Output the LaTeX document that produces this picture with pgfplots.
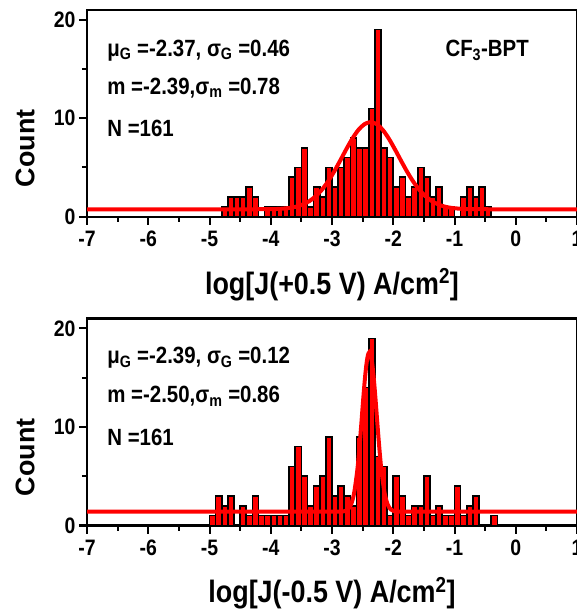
\documentclass[border=0pt]{standalone}
\usepackage{fontspec}
\setmainfont{Liberation Sans}
\usepackage{pgfplots}
\pgfplotsset{compat=1.18}
\definecolor{myred}{RGB}{255,0,0}
\newcommand{\vs}[1]{\scalebox{1}[1.15]{#1}}
\tikzset{ann/.style={anchor=west, font=\fontsize{20.5}{20.5}\selectfont\bfseries, inner sep=0pt}}
\pgfplotsset{
  myaxis/.style={
    scale only axis, width=490bp, height=206.9bp,
    xmin=-7, xmax=1, ymin=0, ymax=21,
    xtick={-7,-6,-5,-4,-3,-2,-1,0,1}, ytick={0,10,20},
    minor xtick={-6.5,-5.5,-4.5,-3.5,-2.5,-1.5,-0.5,0.5}, minor ytick={5,15},
    tick align=outside, tick pos=left,
    major tick length=8bp, minor tick length=5bp,
    axis line style={line width=2.2bp},
    every tick/.style={line width=2bp, black},
    /pgf/number format/assume math mode=true,
    ticklabel style={font=\fontsize{19.5}{19.5}\selectfont\bfseries},
    xticklabel={\vs{\pgfmathprintnumber{\tick}}},
    yticklabel={\vs{\pgfmathprintnumber{\tick}}},
    xticklabel style={yshift=-3bp},
    xlabel style={at={(axis description cs:0.5,0)}, anchor=center, yshift=-68bp, font=\fontsize{27}{27}\selectfont\bfseries},
    ylabel style={at={(axis description cs:0,0.33)}, anchor=center, yshift=62bp, font=\fontsize{27}{27}\selectfont\bfseries},
    ylabel={Count},
    bar width=0.1,
  },
  histo/.style={ybar, bar shift=0pt, draw=black, fill=myred, line width=1.6bp},
  fitline/.style={myred, line width=4bp, smooth, mark=none},
}
\begin{document}
\begin{tikzpicture}
\begin{axis}[myaxis, at={(87bp,395.3bp)}, anchor=south west,
  xlabel={\vs{log[J(+0.5 V) A/cm\textsuperscript{2}]}}]
\addplot[histo] coordinates {
(-4.75,1) (-4.65,2) (-4.55,2) (-4.45,2) (-4.35,3) (-4.25,2)
(-4.05,1) (-3.95,1) (-3.85,1) (-3.75,1) (-3.65,4) (-3.55,5) (-3.45,7)
(-3.35,1) (-3.25,3) (-3.15,2) (-3.05,5) (-2.95,3) (-2.85,5) (-2.75,6)
(-2.65,8) (-2.55,7) (-2.45,7) (-2.35,11) (-2.25,19) (-2.15,7) (-2.05,6)
(-1.95,3) (-1.85,4) (-1.75,2) (-1.65,3) (-1.55,5) (-1.45,4) (-1.35,2)
(-1.25,3) (-1.15,1) (-1.05,1) (-0.85,2) (-0.75,3) (-0.65,2) (-0.55,3) (-0.45,1)
};
\addplot[fitline] coordinates {
(-7,0.75) (-5.5,0.75) (-4.5,0.75) (-4.17,0.76) (-3.97,0.77) (-3.87,0.79) (-3.77,0.84)
(-3.67,0.91) (-3.57,1.04) (-3.47,1.26) (-3.37,1.58) (-3.27,2.06) (-3.17,2.70)
(-3.07,3.53) (-2.97,4.53) (-2.87,5.65) (-2.77,6.81) (-2.67,7.90) (-2.57,8.80)
(-2.47,9.39) (-2.37,9.60) (-2.27,9.39) (-2.17,8.80) (-2.07,7.90) (-1.97,6.81)
(-1.87,5.65) (-1.77,4.53) (-1.67,3.53) (-1.57,2.70) (-1.47,2.06) (-1.37,1.58)
(-1.27,1.26) (-1.17,1.04) (-1.07,0.91) (-0.97,0.84) (-0.87,0.79) (-0.77,0.77)
(-0.57,0.76) (-0.2,0.75) (0.5,0.75) (1,0.75)
};
\node[ann] at (axis cs:-6.67,16.9) {\vs{μ\textsubscript{G} =-2.37, σ\textsubscript{G} =0.46}};
\node[ann] at (axis cs:-6.67,13.1) {\vs{m =-2.39,σ\textsubscript{m} =0.78}};
\node[ann] at (axis cs:-6.67,9.0) {\vs{N =161}};
\node[ann] at (axis cs:-1.15,16.9) {\vs{CF\textsubscript{3}-BPT}};
\end{axis}
\begin{axis}[myaxis, at={(87bp,86.5bp)}, anchor=south west,
  xlabel={\vs{log[J(-0.5 V) A/cm\textsuperscript{2}]}}]
\addplot[histo] coordinates {
(-4.95,1) (-4.85,3) (-4.75,2) (-4.65,3) (-4.45,2) (-4.35,1) (-4.25,3)
(-4.15,1) (-4.05,1) (-3.95,1) (-3.85,1) (-3.75,1) (-3.65,6) (-3.55,8)
(-3.45,5) (-3.35,2) (-3.25,4) (-3.15,5) (-3.05,9) (-2.95,3) (-2.85,4)
(-2.75,3) (-2.65,2) (-2.55,9) (-2.45,14) (-2.35,19) (-2.25,7) (-2.15,6)
(-2.05,1) (-1.95,5) (-1.85,3) (-1.75,1) (-1.65,2) (-1.55,2) (-1.45,5)
(-1.35,1) (-1.25,2) (-1.15,1) (-1.05,1) (-0.95,4) (-0.85,1) (-0.75,2)
(-0.65,3) (-0.35,1)
};
\addplot[fitline] coordinates {
(-7,1.40) (-5,1.40) (-3.0,1.40) (-2.89,1.40) (-2.84,1.41) (-2.79,1.46) (-2.74,1.63)
(-2.69,2.11) (-2.64,3.25) (-2.59,5.44) (-2.565,6.99) (-2.54,8.82) (-2.515,10.82)
(-2.49,12.85) (-2.465,14.73) (-2.44,16.25) (-2.415,17.25) (-2.39,17.60)
(-2.365,17.25) (-2.34,16.25) (-2.315,14.73) (-2.29,12.85) (-2.265,10.82)
(-2.24,8.82) (-2.215,6.99) (-2.19,5.44) (-2.14,3.25) (-2.09,2.11) (-2.04,1.63)
(-1.99,1.46) (-1.94,1.41) (-1.89,1.40) (-1.5,1.40) (0,1.40) (1,1.40)
};
\node[ann] at (axis cs:-6.67,17.0) {\vs{μ\textsubscript{G} =-2.39, σ\textsubscript{G} =0.12}};
\node[ann] at (axis cs:-6.67,13.1) {\vs{m =-2.50,σ\textsubscript{m} =0.86}};
\node[ann] at (axis cs:-6.67,8.9) {\vs{N =161}};
\end{axis}
\pgfresetboundingbox
\useasboundingbox (0,0) rectangle (577bp,612bp);
\end{tikzpicture}
\end{document}
